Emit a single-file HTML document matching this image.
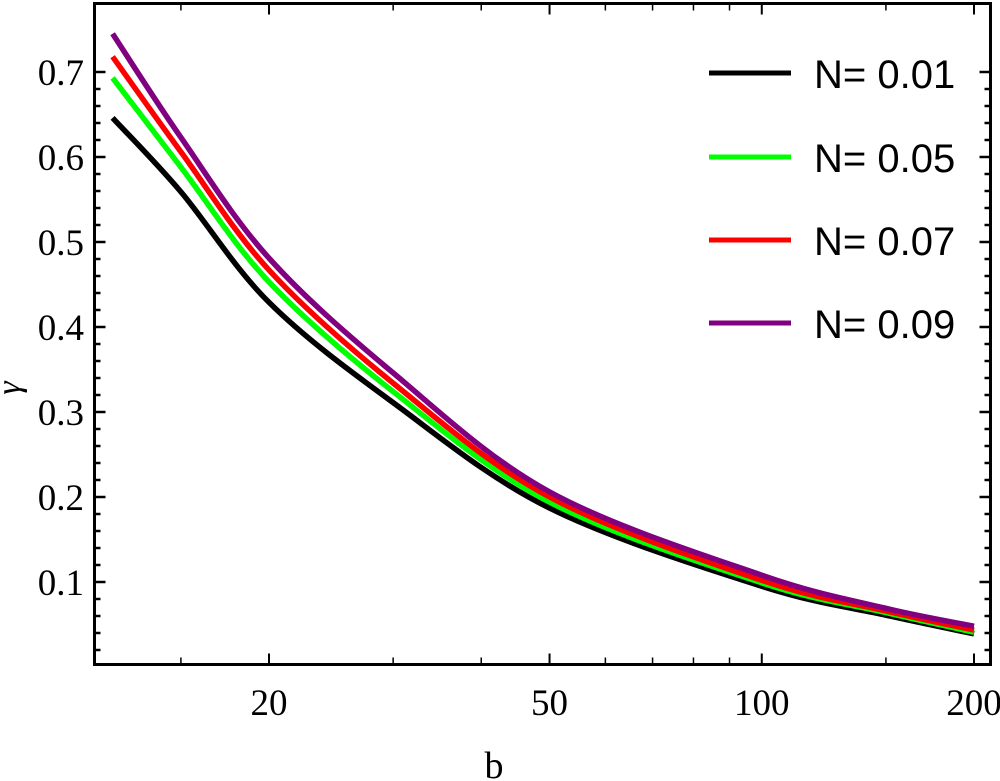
<!DOCTYPE html>
<html><head><meta charset="utf-8"><style>
html,body{margin:0;padding:0;background:#fff;}
svg{display:block;}
</style></head><body>
<svg id="chart" width="1000" height="781" viewBox="0 0 1000 781" xmlns="http://www.w3.org/2000/svg">
<g id="ticks"></g>
<g id="labels" font-family="'Liberation Serif', serif" font-size="37" fill="#000"></g>
<g id="series"></g>
<rect x="94.5" y="3.5" width="896" height="661" fill="none" stroke="#000" stroke-width="3"/>
<g id="legend" font-family="'Liberation Sans', sans-serif" font-size="40" fill="#000"></g>
<text x="494" y="778" font-family="'Liberation Serif', serif" font-size="38" text-anchor="middle">b</text>
<text x="20" y="388" font-family="'Liberation Serif', serif" font-size="34" font-style="italic" text-anchor="middle" transform="rotate(-90 20 388)">γ</text>
</svg>
<script>
const bValues = [12, 15, 20, 30, 50, 100, 150, 200];
const seriesN001 = [0.646, 0.559, 0.429, 0.311, 0.187, 0.095, 0.061, 0.039];
const seriesN005 = [0.693, 0.588, 0.453, 0.324, 0.194, 0.099, 0.064, 0.041];
const seriesN007 = [0.718, 0.606, 0.467, 0.334, 0.200, 0.102, 0.066, 0.0435];
const seriesN009 = [0.745, 0.623, 0.481, 0.346, 0.206, 0.108, 0.069, 0.048];
const seriesLabels = ["N= 0.01", "N= 0.05", "N= 0.07", "N= 0.09"];
const xMajorTicks = [20, 50, 100, 200];
const xMinorTicks = [15, 30, 40, 60, 70, 80, 90, 150];
const yMajorTicks = [0.1, 0.2, 0.3, 0.4, 0.5, 0.6, 0.7];

const NS = "http://www.w3.org/2000/svg";
const L = 94.5, R = 990.5, T = 3.5, B = 664.5;
function xScale(b){ return 269 + (Math.log10(b) - Math.log10(20)) * 705; }
function yScale(v){ return 72 + (0.7 - v) * 850; }
function mk(tag, attrs, parent){ const e = document.createElementNS(NS, tag); for (const k in attrs) e.setAttribute(k, attrs[k]); parent.appendChild(e); return e; }

const ticks = document.getElementById('ticks');
const labels = document.getElementById('labels');
function tickLine(x1,y1,x2,y2,w){ const l = mk('line',{x1,y1,x2,y2,stroke:'#000','stroke-width':w},ticks);
  
   }
xMajorTicks.forEach(b=>{ const x = xScale(b);
  tickLine(x,B,x,B-11,2); tickLine(x,T,x,T+11,2);
  const t = mk('text',{x:x,y:715,'text-anchor':'middle'},labels); t.textContent = String(b);
  
   });
xMinorTicks.forEach(b=>{ const x = xScale(b);
  tickLine(x,B,x,B-7,1.5); tickLine(x,T,x,T+7,1.5); });
for (let i=0;i<=35;i++){ const v = 0.02*i; const y = yScale(v);
  if (y < T+2 || y > B-2) continue;
  const major = Math.abs(v*10 - Math.round(v*10)) < 1e-6;
  const len = major ? 11 : 6;
  tickLine(L,y,L+len,y,2.5); tickLine(R,y,R-len,y,2.5); }
yMajorTicks.forEach(v=>{ const t = mk('text',{x:84,y:yScale(v)+13,'text-anchor':'end'},labels); t.textContent = v.toFixed(1);
  
   });

function pathFor(vals){
  const pts = bValues.map((b,i)=>[xScale(b), yScale(vals[i])]);
  let d = 'M' + pts[0][0] + ',' + pts[0][1];
  for (let i=0;i<pts.length-1;i++){
    const p0 = pts[Math.max(0,i-1)], p1 = pts[i], p2 = pts[i+1], p3 = pts[Math.min(pts.length-1,i+2)];
    const c1 = [p1[0]+(p2[0]-p0[0])/6, p1[1]+(p2[1]-p0[1])/6];
    const c2 = [p2[0]-(p3[0]-p1[0])/6, p2[1]-(p3[1]-p1[1])/6];
    d += ' C'+c1[0]+','+c1[1]+' '+c2[0]+','+c2[1]+' '+p2[0]+','+p2[1];
  }
  return d;
}
const series = document.getElementById('series');
const allSeries = [seriesN001, seriesN005, seriesN007, seriesN009];
const colors = ['#000000', '#00ff00', '#ff0000', '#800080'];
const names = ['line-n-0-01','line-n-0-05','line-n-0-07','line-n-0-09'];
allSeries.forEach((s,i)=>{ const p = mk('path',{d:pathFor(s),fill:'none',stroke:colors[i],'stroke-width':5.5},series);
  
   });

const legend = document.getElementById('legend');
const legY = [73, 157, 240, 323];
seriesLabels.forEach((lab,i)=>{
  const g = mk('g',{},legend);
  
  
  mk('line',{x1:709,y1:legY[i],x2:791,y2:legY[i],stroke:colors[i],'stroke-width':5},g);
  const t = mk('text',{x:814,y:legY[i]+15},g); t.textContent = lab;
});
</script>
</body></html>
